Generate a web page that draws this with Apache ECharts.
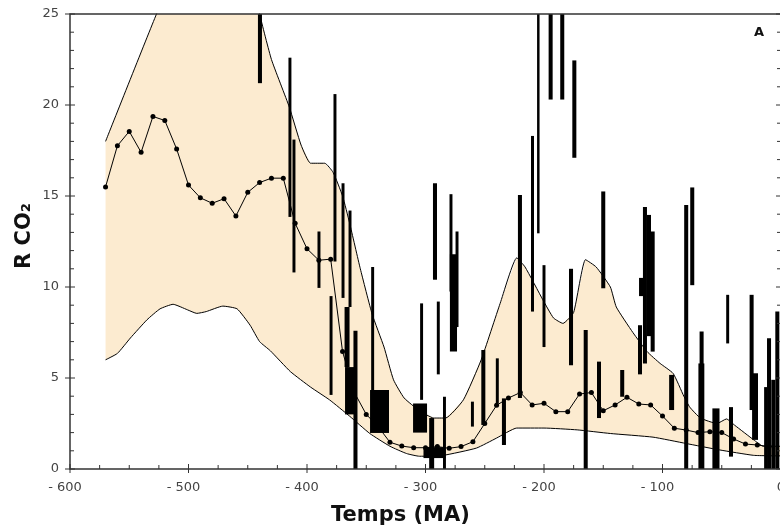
<!DOCTYPE html>
<html>
<head>
<meta charset="utf-8">
<script src="https://cdn.jsdelivr.net/npm/echarts@6/dist/echarts.min.js"></script>
<style>
  html, body { margin: 0; padding: 0; background: #fff; }
  #chart { width: 780px; height: 531px; }
</style>
</head>
<body>
<div id="chart"></div>
<script>
// envelope (upper / lower bound) of the model, Ma vs R CO2
const upperAge = [-570, -527, -500, -470, -450, -440, -430, -415, -405, -397, -385, -378, -370, -364, -355, -345, -335, -327, -318, -305, -293, -283, -268, -253, -237, -223, -216, -201, -192, -184, -175, -165, -156, -144, -139, -125, -113, -102, -91, -82, -77, -68, -54, -46, -39, -23, -15, 0]
const upperVal = [18.0, 25, 29, 31, 28, 25, 22.5, 19.9, 17.8, 16.8, 16.8, 16.3, 15.0, 13.5, 11.0, 8.5, 6.7, 4.9, 3.9, 3.2, 2.8, 2.8, 3.8, 6.0, 9.1, 11.6, 11.1, 9.3, 8.3, 8.0, 8.6, 11.5, 11.1, 10.0, 8.9, 7.5, 6.45, 5.8, 5.25, 4.0, 3.4, 2.8, 2.5, 2.75, 2.4, 1.6, 1.25, 1.25]

const lowerAge = [-570, -560, -549, -535, -524, -513, -501, -493, -485, -471, -459, -448, -440, -431, -414, -397, -381, -364, -347, -330, -316, -305, -285, -257, -240, -223, -200, -172, -144, -108, -80, -52, -23, 0]
const lowerVal = [6.0, 6.35, 7.2, 8.2, 8.8, 9.05, 8.75, 8.55, 8.65, 8.95, 8.8, 7.9, 7.0, 6.5, 5.35, 4.5, 3.8, 2.9, 1.95, 1.25, 0.85, 0.7, 0.75, 1.15, 1.7, 2.25, 2.25, 2.15, 1.95, 1.75, 1.4, 1.05, 0.75, 0.72]

// best-guess curve (dots)
const meanAge = [-570, -560, -550, -540, -530, -520, -510, -500, -490, -480, -470, -460, -450, -440, -430, -420, -410, -400, -390, -380, -370, -360, -350, -340, -330, -320, -310, -300, -290, -280, -270, -260, -250, -240, -230, -220, -210, -200, -190, -180, -170, -160, -150, -140, -130, -120, -110, -100, -90, -80, -70, -60, -50, -40, -30, -20, -10]
const meanVal = [15.5, 17.76, 18.55, 17.4, 19.37, 19.15, 17.58, 15.6, 14.9, 14.6, 14.85, 13.9, 15.2, 15.74, 15.98, 15.98, 13.5, 12.1, 11.47, 11.53, 6.45, 4.2, 3.0, 2.33, 1.47, 1.26, 1.17, 1.17, 1.23, 1.14, 1.23, 1.5, 2.5, 3.5, 3.9, 4.2, 3.52, 3.61, 3.15, 3.15, 4.12, 4.2, 3.2, 3.52, 3.94, 3.57, 3.52, 2.91, 2.24, 2.14, 2.0, 2.05, 2.0, 1.65, 1.37, 1.32, 1.23]

// proxy data: age, low, high, age span (Ma)
const proxyAge  = [-439.7, -414.4, -411, -389.9, -379.7, -376.4, -369.6, -363.7, -366.2, -362.9, -359.1, -344.6, -338.8, -303.3, -304.6, -292, -289.2, -294.8, -284, -292.4, -278.5, -273.4, -276.4, -260.4, -251.2, -239.4, -233.8, -220.3, -209.7, -204.8, -194.4, -184.6, -174.4, -200, -177.2, -164.8, -153.6, -150, -134, -119, -117.7, -114.8, -111.4, -108.3, -92.3, -80, -74.9, -67, -67.2, -54.9, -45, -42.2, -24.8, -21.9, -13, -10.1, -6.5, -3.1]
const proxyLow  = [21.2, 13.85, 10.8, 9.95, 4.07, 11.4, 9.4, 8.9, 5.6, 3.0, 0, 4.34, 1.98, 3.8, 2.0, 10.4, 5.2, 0, 0, 0.6, 9.75, 7.8, 6.45, 2.33, 2.42, 3.6, 1.32, 3.9, 8.65, 12.95, 20.3, 20.3, 17.1, 6.7, 5.7, 0, 2.8, 9.93, 3.97, 5.2, 9.5, 5.8, 7.3, 6.45, 3.24, 0, 10.1, 0, 0, 0, 6.9, 0.68, 3.24, 1.6, 0, 0, 0, 0]
const proxyHigh = [26, 22.6, 18.1, 13.05, 9.5, 20.6, 15.7, 14.2, 8.9, 5.6, 7.6, 11.1, 4.34, 9.1, 3.6, 15.7, 9.2, 2.8, 3.97, 1.2, 15.1, 13.05, 11.8, 3.7, 6.54, 6.08, 3.88, 15.06, 18.3, 26, 26, 26, 22.45, 11.2, 11.0, 7.64, 5.9, 15.25, 5.44, 7.9, 10.5, 14.4, 13.96, 13.05, 5.17, 14.5, 15.47, 7.55, 5.8, 3.33, 9.57, 3.4, 9.57, 5.26, 4.5, 7.18, 4.9, 8.65]
const proxySpan = [3.4, 2.5, 2.5, 2.5, 2.5, 2.5, 2.5, 2.5, 4.2, 10, 3.4, 2.5, 16, 2.5, 11.8, 3.4, 2.5, 4.2, 2.5, 18.6, 2.5, 2.5, 6, 2.5, 3.4, 2.5, 3.4, 3.4, 2.5, 2.1, 3.4, 3.4, 3.4, 2.5, 3.4, 3.4, 3.4, 3.4, 3.4, 3.4, 4.2, 3.4, 3.4, 3.4, 4.2, 3.4, 3.4, 3.4, 5, 6, 2.5, 3.4, 3.4, 5, 2.5, 3.4, 3.4, 3.4]

const xTicks = [-600, -500, -400, -300, -200, -100, 0]
const yTicks = [0, 5, 10, 15, 20, 25]

const chart = echarts.init(document.getElementById('chart'), null, { renderer: 'canvas' })

const pairs = (a, b) => a.map((v, i) => [v, b[i]])
const axisColor = '#333'
const labelColor = '#444'
const xMin = xTicks[0], xMax = xTicks[xTicks.length - 1]
const yMin = yTicks[0], yMax = yTicks[yTicks.length - 1]

// frame + ticks, drawn through the grid's own coordinate mapping
function renderFrame(params, api) {
  const [x0, y0] = api.coord([xMin, yMin])
  const [x1, y1] = api.coord([xMax, yMax])
  const st = { stroke: axisColor, lineWidth: 1 }
  const children = [{
    type: 'rect',
    shape: { x: x0, y: y1, width: x1 - x0, height: y0 - y1 },
    style: { fill: 'none', stroke: axisColor, lineWidth: 1.5 }
  }]
  for (let v = yMin; v <= yMax; v += 1) {
    const y = api.coord([xMin, v])[1]
    const major = v % 5 === 0
    children.push({ type: 'line', shape: { x1: x0 - (major ? 5 : 0), y1: y, x2: x0 + (major ? 5 : 4), y2: y }, style: st })
    children.push({ type: 'line', shape: { x1: x1 - (major ? 5 : 4), y1: y, x2: x1, y2: y }, style: st })
  }
  for (let v = xMin; v <= xMax; v += 25) {
    const x = api.coord([v, yMin])[0]
    const major = v % 100 === 0
    children.push({ type: 'line', shape: { x1: x, y1: y0 + (major ? 4 : 0), x2: x, y2: y0 - (major ? 5 : 4) }, style: st })
  }
  return { type: 'group', children }
}

let option = {
  animation: false,
  backgroundColor: '#fff',
  grid: { left: 70, top: 14, width: 711, height: 455, containLabel: false, outerBoundsMode: 'none' },
  xAxis: {
    type: 'value', min: xMin, max: xMax, interval: 100,
    axisLine: { show: false, onZero: false },
    axisTick: { show: false },
    splitLine: { show: false },
    axisLabel: {
      color: labelColor, fontSize: 13, fontFamily: 'DejaVu Sans', margin: 12,
      formatter: v => v < 0 ? '{n|- ' + Math.abs(v) + '}' : '{z|' + v + '}',
      rich: {
        n: { fontSize: 13, fontFamily: 'DejaVu Sans', color: labelColor, padding: [0, 10, 0, 0] },
        z: { fontSize: 13, fontFamily: 'DejaVu Sans', color: labelColor }
      }
    }
  },
  yAxis: {
    type: 'value', min: yMin, max: yMax, interval: 5,
    axisLine: { show: false, onZero: false },
    axisTick: { show: false },
    splitLine: { show: false },
    axisLabel: { color: labelColor, fontSize: 13, fontFamily: 'DejaVu Sans', margin: 11 }
  },
  graphic: [
    {
      type: 'text', left: 14, top: 203, rotation: Math.PI / 2,
      style: { text: 'R CO₂', font: 'bold 21px "DejaVu Sans"', fill: '#111' }
    },
    {
      type: 'text', left: 331, top: 505,
      style: { text: 'Temps (MA)', font: 'bold 21px "DejaVu Sans"', fill: '#111' }
    },
    {
      type: 'text', left: 754, top: 26,
      style: { text: 'A', font: 'bold 13px "DejaVu Sans"', fill: '#111' }
    }
  ],
  series: [
    {
      // band between the two bounds
      name: 'band', type: 'custom', clip: true, silent: true,
      data: [0],
      renderItem(params, api) {
        const pts = upperAge.map((a, i) => api.coord([a, upperVal[i]]))
        for (let i = lowerAge.length - 1; i >= 0; i--) pts.push(api.coord([lowerAge[i], lowerVal[i]]))
        return { type: 'polygon', shape: { points: pts }, style: { fill: '#FCEBD0' } }
      },
      z: 1
    },
    {
      name: 'upper', type: 'line', data: pairs(upperAge, upperVal),
      smooth: 0.15, symbol: 'none',
      lineStyle: { color: '#000', width: 1 },
      z: 2
    },
    {
      name: 'lower', type: 'line', data: pairs(lowerAge, lowerVal),
      smooth: 0.15, symbol: 'none',
      lineStyle: { color: '#000', width: 1 },
      z: 2
    },
    {
      name: 'proxies', type: 'custom', clip: true,
      data: proxyAge.map((a, i) => [a, proxyLow[i], proxyHigh[i], proxySpan[i]]),
      renderItem(params, api) {
        const top = api.coord([api.value(0), api.value(2)])
        const bot = api.coord([api.value(0), api.value(1)])
        const w = Math.max(api.size([api.value(3), 0])[0], 2)
        return {
          type: 'rect',
          shape: { x: top[0] - w / 2, y: top[1], width: w, height: bot[1] - top[1] },
          style: { fill: '#000' }
        }
      },
      z: 3
    },
    {
      name: 'mean', type: 'line', data: pairs(meanAge, meanVal),
      symbol: 'circle', symbolSize: 5,
      itemStyle: { color: '#000' },
      lineStyle: { color: '#000', width: 1 },
      z: 4
    },
    {
      name: 'frame', type: 'custom', clip: false, silent: true,
      data: [0],
      renderItem: renderFrame,
      zlevel: 1,
      z: 10
    }
  ]
}

chart.setOption(option)
</script>
</body>
</html>
